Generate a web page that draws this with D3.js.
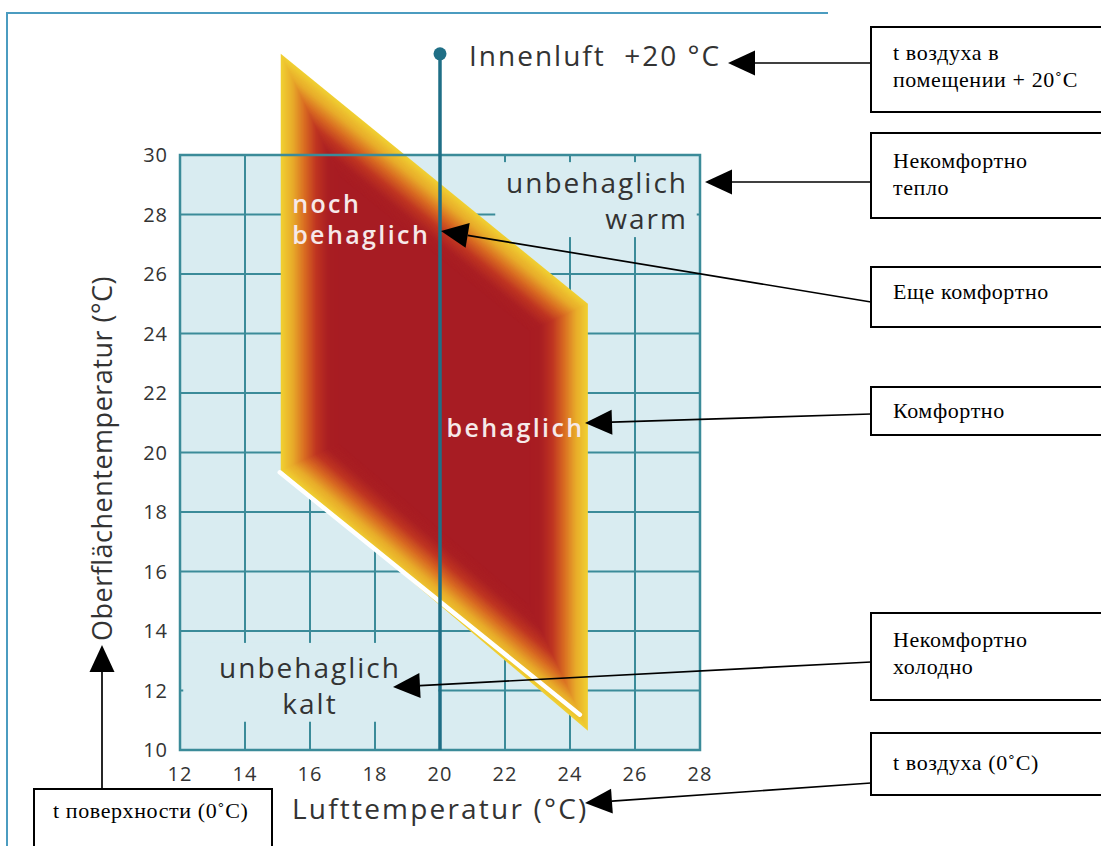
<!DOCTYPE html>
<html>
<head>
<meta charset="utf-8">
<script src="https://cdn.jsdelivr.net/npm/d3@7"></script>
<style>
  body { margin: 0; background: #fff; }
  svg { display: block; }
</style>
</head>
<body>
<svg id="chart" width="1101" height="846"></svg>
<script>
// ---- data ----
const xTicks = [12, 14, 16, 18, 20, 22, 24, 26, 28];
const yTicks = [10, 12, 14, 16, 18, 20, 22, 24, 26, 28, 30];
const indoorAir = 20;          // Innenluft +20 °C
const indoorTop = 33.4;        // marker dot, in surface-temperature units
// comfort zone corners [air °C, surface °C]
const comfortZone = [[15.1, 33.4], [24.55, 25.0], [24.55, 10.65], [15.1, 19.4]];
const zoneNames = [
  {lines: ["noch", "behaglich"], at: [15.45, 28.05], anchor: "start", light: true},
  {lines: ["behaglich"], at: [20.2, 20.52], anchor: "start", light: true},
  {lines: ["unbehaglich", "warm"], at: [27.63, 28.72], anchor: "end", light: false},
  {lines: ["unbehaglich", "kalt"], at: [16.0, 12.42], anchor: "middle", light: false}
];
// areas kept clear of grid behind the dark labels [x0, x1, y0, y1]
const clearAreas = [[21.7, 27.9, 27.24, 29.76], [12.1, 19.95, 10.95, 13.6]];
const xTitle = "Lufttemperatur (°C)";
const yTitle = "Oberflächentemperatur (°C)";
const topLabel = "Innenluft  +20 °C";
const notes = [
  ["t воздуха в", "помещении + 20˚C"],
  ["Некомфортно", "тепло"],
  ["Еще комфортно"],
  ["Комфортно"],
  ["Некомфортно", "холодно"],
  ["t воздуха (0˚C)"]
];
const noteLeft = "t поверхности (0˚C)";

// ---- layout ----
const svg = d3.select("#chart");
const x = d3.scaleLinear().domain([12, 28]).range([180, 700]);
const y = d3.scaleLinear().domain([10, 30]).range([750, 155]);
const gridColor = "#3b8b99";
const bg = "#d9ecf1";
const sans = "'Open Sans', 'Noto Sans', sans-serif";
const serif = "'Liberation Serif', 'Times New Roman', serif";

// outer frame
svg.append("path")
  .attr("d", "M7,846 L7,13 L828,13")
  .attr("fill", "none")
  .attr("stroke", "#4b9cc0")
  .attr("stroke-width", 2);

let plot = svg.append("g");
plot.append("rect")
  .attr("x", x(12)).attr("y", y(30))
  .attr("width", x(28) - x(12)).attr("height", y(10) - y(30))
  .attr("fill", bg);

// grid
plot.selectAll(".gx").data(xTicks.slice(1, -1)).enter().append("line")
  .attr("class", "gx")
  .attr("x1", d => x(d)).attr("x2", d => x(d))
  .attr("y1", y(30)).attr("y2", y(10))
  .attr("stroke", gridColor).attr("stroke-width", 2);
plot.selectAll(".gy").data(yTicks.slice(1, -1)).enter().append("line")
  .attr("class", "gy")
  .attr("y1", d => y(d)).attr("y2", d => y(d))
  .attr("x1", x(12)).attr("x2", x(28))
  .attr("stroke", gridColor).attr("stroke-width", 2);

// clear panels behind dark labels
plot.selectAll(".clear").data(clearAreas).enter().append("rect")
  .attr("class", "clear")
  .attr("x", d => x(d[0])).attr("width", d => x(d[1]) - x(d[0]))
  .attr("y", d => y(d[3])).attr("height", d => y(d[2]) - y(d[3]))
  .attr("fill", bg);

// comfort zone: layered insets, yellow rim to dark red core
function inset(poly, d) {
  let n = poly.length,
      cx = d3.mean(poly, p => p[0]),
      cy = d3.mean(poly, p => p[1]);
  let lines = poly.map((p, i) => {
    let q = poly[(i + 1) % n];
    let dx = q[0] - p[0], dy = q[1] - p[1], L = Math.hypot(dx, dy);
    dx /= L; dy /= L;
    let nx = -dy, ny = dx;
    if ((cx - p[0]) * nx + (cy - p[1]) * ny < 0) { nx = -nx; ny = -ny; }
    return {px: p[0] + nx * d, py: p[1] + ny * d, dx: dx, dy: dy};
  });
  return lines.map((l, i) => {
    let m = lines[(i - 1 + n) % n];
    let den = m.dx * l.dy - m.dy * l.dx;
    let t = ((l.px - m.px) * l.dy - (l.py - m.py) * l.dx) / den;
    return [m.px + m.dx * t, m.py + m.dy * t];
  });
}
const zonePx = comfortZone.map(p => [x(p[0]), y(p[1])]);
const ramp = d3.piecewise(d3.interpolateRgb,
  ["#f0cf32", "#e8ab2a", "#d96c22", "#bf3522", "#aa1f23", "#a71c23"]);
const band = 58;
const layers = d3.range(0, band + 1, 1);
plot.selectAll(".zone").data(layers).enter().append("path")
  .attr("class", "zone")
  .attr("d", d => "M" + inset(zonePx, d).join("L") + "Z")
  .attr("fill", d => ramp(d / band));
// white rim on the lower edge
let bl = zonePx[3], br = zonePx[2];
plot.append("line")
  .attr("x1", bl[0] - 1).attr("y1", bl[1] + 2)
  .attr("x2", br[0] - 8).attr("y2", br[1] - 16)
  .attr("stroke", "#fff").attr("stroke-width", 4.5)
  .attr("stroke-linecap", "round");

// plot border
plot.append("rect")
  .attr("x", x(12)).attr("y", y(30))
  .attr("width", x(28) - x(12)).attr("height", y(10) - y(30))
  .attr("fill", "none").attr("stroke", gridColor).attr("stroke-width", 2.5);

// indoor air line
plot.append("line")
  .attr("x1", x(indoorAir)).attr("x2", x(indoorAir))
  .attr("y1", y(indoorTop)).attr("y2", y(10))
  .attr("stroke", "#1f6f86").attr("stroke-width", 3.5);
plot.append("circle")
  .attr("cx", x(indoorAir)).attr("cy", y(indoorTop)).attr("r", 6.5)
  .attr("fill", "#1f6f86");
plot.append("text")
  .attr("x", x(indoorAir) + 29).attr("y", y(indoorTop) + 12)
  .style("font-family", sans).style("font-size", "28px")
  .style("letter-spacing", "2px").style("fill", "#333")
  .attr("xml:space", "preserve")
  .text(topLabel);

// zone names
zoneNames.forEach(z => {
  let t = plot.append("text")
    .attr("x", x(z.at[0])).attr("y", y(z.at[1]))
    .attr("text-anchor", z.anchor)
    .style("font-family", sans)
    .style("font-size", z.light ? "25px" : "28px")
    .style("font-weight", z.light ? 600 : 400)
    .style("letter-spacing", z.light ? "2.4px" : "2px")
    .style("fill", z.light ? "#f6e9e9" : "#333");
  z.lines.forEach((s, i) => {
    t.append("tspan")
      .attr("x", x(z.at[0]))
      .attr("dy", i === 0 ? 0 : (z.light ? 31 : 36))
      .text(s);
  });
});

// tick labels
svg.selectAll(".tx").data(xTicks).enter().append("text")
  .attr("class", "tx")
  .attr("x", d => x(d)).attr("y", 781)
  .attr("text-anchor", "middle")
  .style("font-family", sans).style("font-size", "20px")
  .style("letter-spacing", "1px").style("fill", "#333")
  .text(d => d);
svg.selectAll(".ty").data(yTicks).enter().append("text")
  .attr("class", "ty")
  .attr("x", 168).attr("y", d => y(d) + 7)
  .attr("text-anchor", "end")
  .style("font-family", sans).style("font-size", "20px")
  .style("letter-spacing", "1px").style("fill", "#333")
  .text(d => d);

// axis titles
svg.append("text")
  .attr("x", 292).attr("y", 819)
  .style("font-family", sans).style("font-size", "28px")
  .style("letter-spacing", "2.2px").style("fill", "#333")
  .text(xTitle);
svg.append("text")
  .attr("transform", "translate(112,641) rotate(-90)")
  .style("font-family", sans).style("font-size", "27px")
  .style("letter-spacing", "0.5px").style("fill", "#333")
  .text(yTitle);

// ---- callouts ----
const boxes = [
  {y0: 27, y1: 112, base: 60},
  {y0: 133, y1: 218, base: 168},
  {y0: 267, y1: 327, base: 299},
  {y0: 387, y1: 435, base: 418},
  {y0: 613, y1: 700, base: 647},
  {y0: 733, y1: 795, base: 770}
];
const arrows = [
  [[871, 63], [728, 63]],
  [[871, 182], [705, 182]],
  [[871, 302], [441, 231]],
  [[871, 414], [585, 423]],
  [[871, 662], [393, 687]],
  [[871, 783], [585, 803]],
  [[102, 789], [102, 645]]
];
let notesG = svg.append("g");
boxes.forEach((b, i) => {
  notesG.append("rect")
    .attr("x", 871).attr("y", b.y0)
    .attr("width", 250).attr("height", b.y1 - b.y0)
    .attr("fill", "#fff").attr("stroke", "#000").attr("stroke-width", 2);
  let t = notesG.append("text")
    .attr("x", 893).attr("y", b.base)
    .style("font-family", serif).style("font-size", "22px")
    .style("letter-spacing", "0.6px").style("fill", "#000");
  notes[i].forEach((s, k) => {
    t.append("tspan").attr("x", 893).attr("dy", k === 0 ? 0 : 26.5).text(s);
  });
});
notesG.append("rect")
  .attr("x", 34).attr("y", 789).attr("width", 238).attr("height", 70)
  .attr("fill", "#fff").attr("stroke", "#000").attr("stroke-width", 2);
notesG.append("text")
  .attr("x", 53).attr("y", 818)
  .style("font-family", serif).style("font-size", "22px")
  .style("letter-spacing", "0.6px").style("fill", "#000")
  .text(noteLeft);

arrows.forEach(a => {
  let [p, q] = a;
  let dx = q[0] - p[0], dy = q[1] - p[1], L = Math.hypot(dx, dy);
  let ux = dx / L, uy = dy / L, hl = 27, hw = 12.5;
  let bx = q[0] - ux * hl, by = q[1] - uy * hl;
  notesG.append("line")
    .attr("x1", p[0]).attr("y1", p[1]).attr("x2", bx).attr("y2", by)
    .attr("stroke", "#000").attr("stroke-width", 1.7);
  notesG.append("path")
    .attr("d", "M" + [q, [bx - uy * hw, by + ux * hw], [bx + uy * hw, by - ux * hw]].join("L") + "Z")
    .attr("fill", "#000");
});
</script>
</body>
</html>
